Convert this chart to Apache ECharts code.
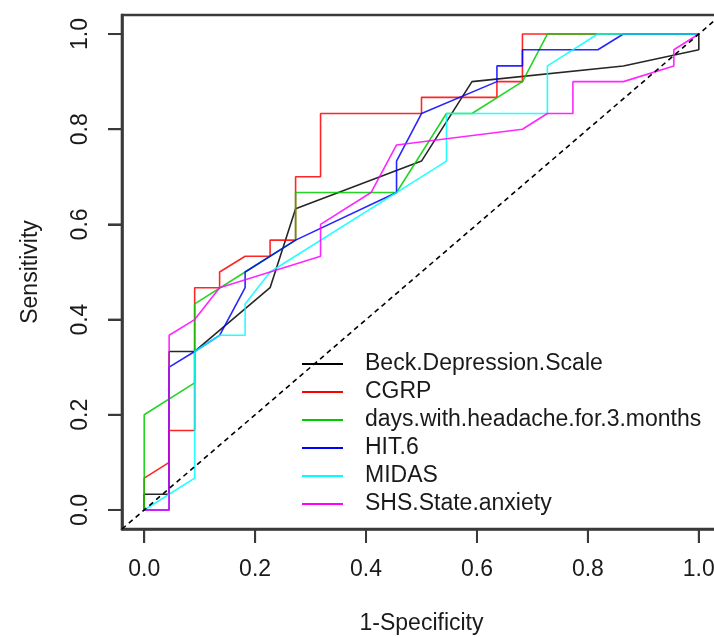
<!DOCTYPE html>
<html>
<head>
<meta charset="utf-8">
<script src="https://cdn.jsdelivr.net/npm/echarts@6/dist/echarts.min.js"></script>
<style>
  html, body { margin: 0; padding: 0; background: #ffffff; }
  #chart { width: 714px; height: 637px; }
</style>
</head>
<body>
<div id="chart"></div>
<script>
// ROC curves: 1-Specificity (x) against Sensitivity (y), one step curve per predictor.
const seriesNames = [
  'Beck.Depression.Scale',
  'CGRP',
  'days.with.headache.for.3.months',
  'HIT.6',
  'MIDAS',
  'SHS.State.anxiety'
];
const seriesColors = ['#000000', '#ff0000', '#00cd00', '#0000ff', '#00ffff', '#ff00ff'];

const beckFpr = [0, 0, 0.045, 0.045, 0.091, 0.227, 0.273, 0.5, 0.591, 0.864, 1, 1];
const beckTpr = [0, 0.033, 0.033, 0.333, 0.333, 0.467, 0.633, 0.733, 0.9, 0.933, 0.967, 1];

const cgrpFpr = [0, 0, 0.045, 0.045, 0.091, 0.091, 0.136, 0.136, 0.182, 0.227, 0.227, 0.273, 0.273, 0.318, 0.318, 0.5, 0.5, 0.636, 0.636, 0.682, 0.682, 1];
const cgrpTpr = [0, 0.067, 0.1, 0.167, 0.167, 0.467, 0.467, 0.5, 0.533, 0.533, 0.567, 0.567, 0.7, 0.7, 0.833, 0.833, 0.867, 0.867, 0.9, 0.9, 1, 1];

const daysFpr = [0, 0, 0.091, 0.091, 0.182, 0.273, 0.273, 0.455, 0.545, 0.591, 0.682, 0.727, 1];
const daysTpr = [0, 0.2, 0.267, 0.433, 0.5, 0.567, 0.667, 0.667, 0.833, 0.833, 0.9, 1, 1];

const hitFpr = [0, 0.045, 0.045, 0.091, 0.136, 0.182, 0.182, 0.273, 0.455, 0.455, 0.5, 0.636, 0.636, 0.682, 0.682, 0.818, 0.864, 1];
const hitTpr = [0, 0, 0.3, 0.333, 0.367, 0.467, 0.5, 0.567, 0.667, 0.733, 0.833, 0.9, 0.933, 0.933, 0.967, 0.967, 1, 1];

const midasFpr = [0, 0.045, 0.091, 0.091, 0.136, 0.182, 0.182, 0.227, 0.545, 0.545, 0.727, 0.727, 0.818, 1];
const midasTpr = [0, 0.033, 0.067, 0.333, 0.367, 0.367, 0.433, 0.5, 0.733, 0.833, 0.833, 0.933, 1, 1];

const shsFpr = [0, 0.045, 0.045, 0.091, 0.136, 0.318, 0.318, 0.409, 0.455, 0.682, 0.727, 0.773, 0.773, 0.864, 0.955, 0.955, 1];
const shsTpr = [0, 0, 0.367, 0.4, 0.467, 0.533, 0.6, 0.667, 0.767, 0.8, 0.833, 0.833, 0.9, 0.9, 0.933, 0.967, 1];

const tickValues = [0, 0.2, 0.4, 0.6, 0.8, 1.0];
const tickLabels = ['0.0', '0.2', '0.4', '0.6', '0.8', '1.0'];
const chanceLine = [-0.04, 1.04];

const curves = [
  [beckFpr, beckTpr],
  [cgrpFpr, cgrpTpr],
  [daysFpr, daysTpr],
  [hitFpr, hitTpr],
  [midasFpr, midasTpr],
  [shsFpr, shsTpr]
];

const FONT = '"Liberation Sans", Arial, Helvetica, sans-serif';
const TEXT = '#1a1a1a';
const AXIS = '#3a3a3a';
const TICK_LEN = 14;

function pairs(xs, ys) {
  return xs.map((x, i) => [x, ys[i]]);
}
function tickLabel(v) {
  const i = tickValues.findIndex(t => Math.abs(t - v) < 1e-9);
  return i >= 0 ? tickLabels[i] : '';
}

const rocSeries = curves.map((c, i) => ({
  name: seriesNames[i],
  type: 'line',
  data: pairs(c[0], c[1]),
  showSymbol: false,
  symbol: 'none',
  silent: true,
  lineStyle: { color: seriesColors[i], width: 1.6, opacity: 0.85 },
  itemStyle: { color: seriesColors[i] },
  z: 3 + i
}));

const diagonal = {
  name: 'chance',
  type: 'line',
  data: pairs(chanceLine, chanceLine),
  showSymbol: false,
  symbol: 'none',
  silent: true,
  lineStyle: { color: '#000000', width: 1.6, type: [5, 4] },
  z: 10
};

const chart = echarts.init(document.getElementById('chart'), null, { renderer: 'canvas' });

const axisCommon = {
  type: 'value',
  min: chanceLine[0],
  max: chanceLine[1],
  splitLine: { show: false },
  axisLine: { show: true, onZero: false, lineStyle: { color: AXIS, width: 2.6 } },
  axisTick: {
    show: true,
    customValues: tickValues,
    length: TICK_LEN,
    inside: false,
    lineStyle: { color: AXIS, width: 2 }
  },
  axisLabel: {
    customValues: tickValues,
    formatter: tickLabel,
    color: TEXT,
    fontFamily: FONT,
    fontSize: 23
  },
  nameLocation: 'middle',
  nameTextStyle: { color: TEXT, fontFamily: FONT, fontSize: 23 }
};

chart.setOption({
  animation: false,
  backgroundColor: '#ffffff',
  grid: {
    left: 122,
    top: 15,
    width: 599,
    height: 514,
    outerBoundsMode: 'none',
    containLabel: false,
    show: true,
    borderColor: AXIS,
    borderWidth: 2.6,
    backgroundColor: 'transparent'
  },
  xAxis: Object.assign({}, axisCommon, {
    name: '1-Specificity',
    nameGap: 83,
    axisLabel: Object.assign({}, axisCommon.axisLabel, { margin: 29 })
  }),
  yAxis: Object.assign({}, axisCommon, {
    name: 'Sensitivity',
    nameGap: 80,
    nameRotate: 90,
    axisLabel: Object.assign({}, axisCommon.axisLabel, { margin: 30, rotate: 90 })
  }),
  legend: {
    data: seriesNames,
    orient: 'vertical',
    left: 297,
    top: 345,
    icon: 'rect',
    itemWidth: 41,
    itemHeight: 2,
    itemGap: 0,
    selectedMode: false,
    textStyle: {
      color: TEXT,
      fontFamily: FONT,
      fontSize: 23,
      lineHeight: 28,
      padding: [0, 0, 0, 17]
    }
  },
  series: rocSeries.concat([diagonal])
});

// Outward tick marks at the labelled values, placed through the axis scales.
const tickMarks = [];
tickValues.forEach(v => {
  const bx = chart.convertToPixel({ gridIndex: 0 }, [v, chanceLine[0]]);
  tickMarks.push({
    type: 'line', silent: true, z: 20,
    shape: { x1: bx[0], y1: bx[1], x2: bx[0], y2: bx[1] + TICK_LEN },
    style: { stroke: AXIS, lineWidth: 2 }
  });
  const ly = chart.convertToPixel({ gridIndex: 0 }, [chanceLine[0], v]);
  tickMarks.push({
    type: 'line', silent: true, z: 20,
    shape: { x1: ly[0], y1: ly[1], x2: ly[0] - TICK_LEN, y2: ly[1] },
    style: { stroke: AXIS, lineWidth: 2 }
  });
});
chart.setOption({ graphic: tickMarks });
</script>
</body>
</html>
